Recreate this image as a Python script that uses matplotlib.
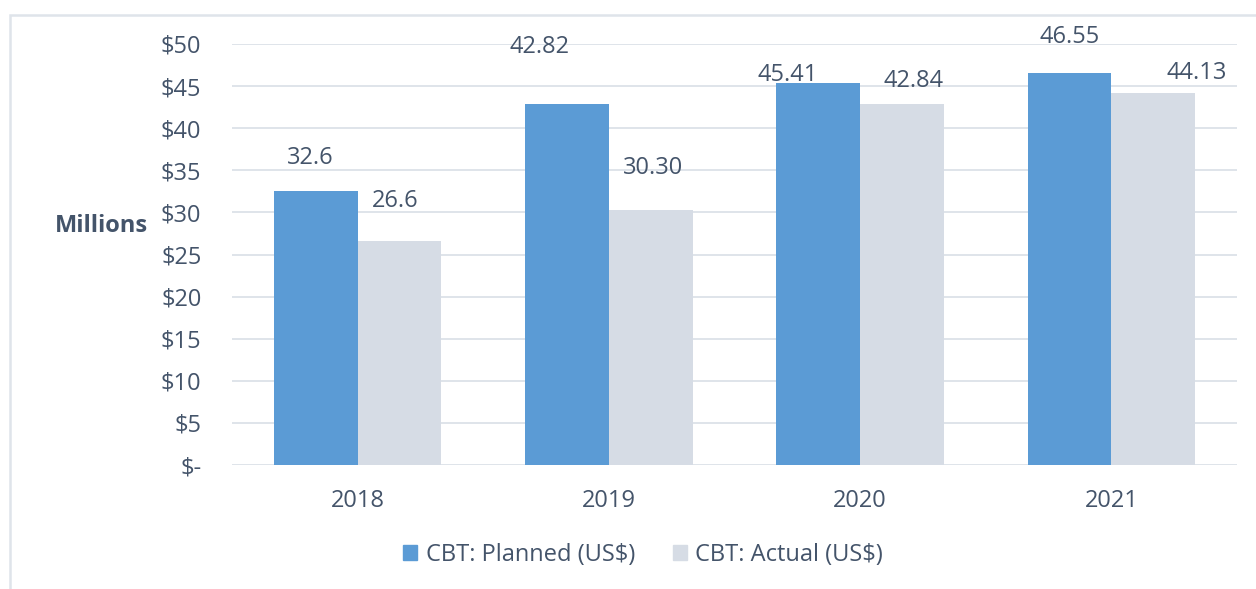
import matplotlib
matplotlib.use('Agg')
import matplotlib.pyplot as plt
from matplotlib.patches import Rectangle, Patch

years = ['2018', '2019', '2020', '2021']
planned = [32.6, 42.82, 45.41, 46.55]
actual = [26.6, 30.30, 42.84, 44.13]
planned_labels = ['32.6', '42.82', '45.41', '46.55']
actual_labels = ['26.6', '30.30', '42.84', '44.13']
yticks = [0, 5, 10, 15, 20, 25, 30, 35, 40, 45, 50]
ytick_labels = ['$-', '$5', '$10', '$15', '$20', '$25', '$30', '$35', '$40', '$45', '$50']

# label offsets in pixels (dx, dy) from bar top centre, as placed in the original
planned_off = [(-6, 33), (-27, 57), (-31, 8), (0, 36)]
actual_off = [(-4, 40), (2, 42), (12, 23), (43, 20)]

BLUE = '#5b9bd5'
GREY = '#d6dce5'
TEXT = '#44546a'
GRID = '#dfe4ea'
FS = 17

plt.rcParams['font.family'] = ['Open Sans', 'DejaVu Sans']
plt.rcParams['font.size'] = FS

fig = plt.figure(figsize=(12.56, 5.89), dpi=100)
ax = fig.add_axes([232 / 1256, 1 - 465 / 589, 1005 / 1256, 421 / 589])

x = list(range(len(years)))
w = 1 / 3
ax.bar([i - w / 2 for i in x], planned, w, color=BLUE, zorder=2)
ax.bar([i + w / 2 for i in x], actual, w, color=GREY, zorder=2)

px = 72 / 100
for i in x:
    ax.annotate(planned_labels[i], (i - w / 2, planned[i]),
                xytext=(planned_off[i][0] * px, planned_off[i][1] * px),
                textcoords='offset points', ha='center', va='center',
                color=TEXT, fontsize=FS, annotation_clip=False)
    ax.annotate(actual_labels[i], (i + w / 2, actual[i]),
                xytext=(actual_off[i][0] * px, actual_off[i][1] * px),
                textcoords='offset points', ha='center', va='center',
                color=TEXT, fontsize=FS, annotation_clip=False)

ax.set_xlim(-0.5, 3.5)
ax.set_ylim(0, 50)
ax.set_yticks(yticks)
ax.set_yticklabels(ytick_labels)
ax.set_xticks(x)
ax.set_xticklabels(years)
ax.tick_params(axis='both', length=0, colors=TEXT, labelsize=FS)
ax.tick_params(axis='y', pad=22)
ax.tick_params(axis='x', pad=17)
ax.yaxis.grid(True, color=GRID, linewidth=1.4, zorder=0)
ax.set_axisbelow(True)
for s in ax.spines.values():
    s.set_visible(False)

fig.text(101 / 1256, 1 - 226 / 589, 'Millions', ha='center', va='center',
         color=TEXT, fontsize=FS, fontweight='bold')

handles = [Patch(color=BLUE, label='CBT: Planned (US$)'),
           Patch(color=GREY, label='CBT: Actual (US$)')]
fig.legend(handles=handles, loc='center', bbox_to_anchor=(643 / 1256, 1 - 555 / 589),
           ncol=2, frameon=False, handlelength=0.6, handleheight=0.6,
           handletextpad=0.35, columnspacing=1.6, labelcolor=TEXT, fontsize=FS)

fig.patches.append(Rectangle((10 / 1256, -0.1), 1.2, 1 - 15 / 589 + 0.1,
                             transform=fig.transFigure, fill=False,
                             edgecolor=GRID, linewidth=1.8))

fig.savefig('out.png', dpi=100)
